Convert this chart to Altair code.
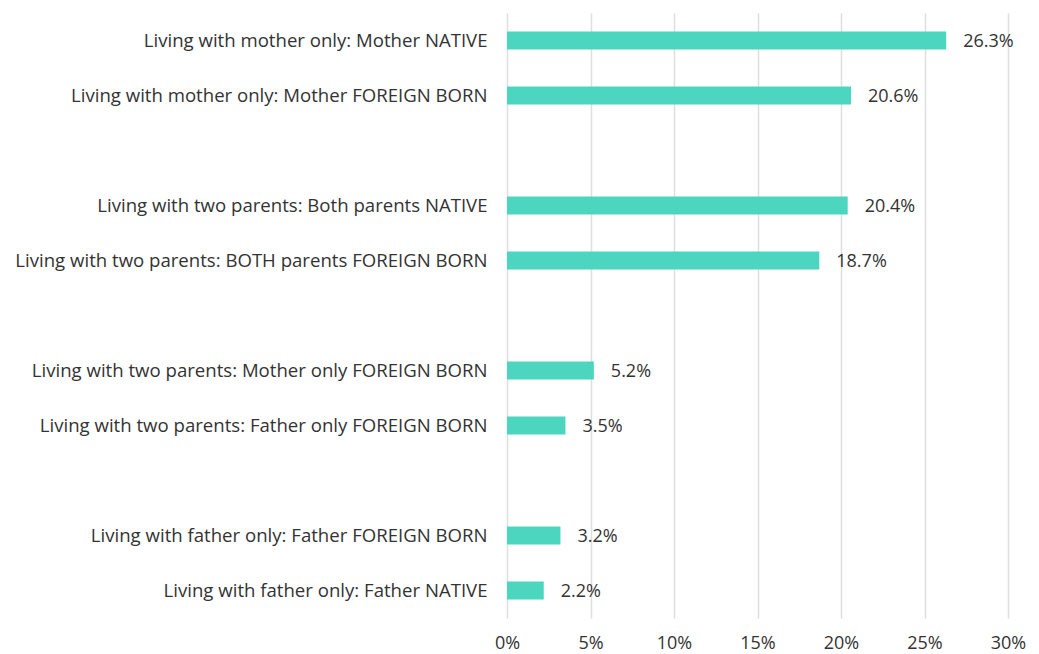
import altair as alt
import pandas as pd

categories = [
    "Living with mother only: Mother NATIVE",
    "Living with mother only: Mother FOREIGN BORN",
    "Living with two parents: Both parents NATIVE",
    "Living with two parents: BOTH parents FOREIGN BORN",
    "Living with two parents: Mother only FOREIGN BORN",
    "Living with two parents: Father only FOREIGN BORN",
    "Living with father only: Father FOREIGN BORN",
    "Living with father only: Father NATIVE",
]
values = [26.3, 20.6, 20.4, 18.7, 5.2, 3.5, 3.2, 2.2]
x_ticks = [0, 5, 10, 15, 20, 25, 30]

# y domain with blank spacer slots between pairs
domain = [categories[0], categories[1], " ",
          categories[2], categories[3], "  ",
          categories[4], categories[5], "   ",
          categories[6], categories[7]]

df = pd.DataFrame({"cat": categories, "val": [v / 100 for v in values],
                   "label": [f"{v:.1f}%" for v in values]})

FONT = "Open Sans"
TEXT = "#333333"
BAR = "#4dd6bf"

y = alt.Y("cat:N", sort=domain,
          scale=alt.Scale(domain=domain, paddingInner=0, paddingOuter=0),
          axis=alt.Axis(title=None, ticks=False, domain=False, labelFont=FONT,
                        labelFontSize=18.6, labelColor=TEXT, labelPadding=20,
                        labelLimit=600))
x = alt.X("val:Q", scale=alt.Scale(domain=[0, 0.30], nice=False),
          axis=alt.Axis(title=None, format=".0%", values=[t / 100 for t in x_ticks],
                        ticks=False, domain=False, labelFont=FONT, labelFontSize=18,
                        labelColor=TEXT, labelPadding=16, labelFlush=False,
                        grid=True, gridColor="#dedede", gridWidth=1.5))

bars = alt.Chart(df).mark_bar(size=18, color=BAR).encode(x=x, y=y)
labels = alt.Chart(df).mark_text(align="left", baseline="middle", dx=17, dy=1,
                                 font=FONT, fontSize=18, color=TEXT).encode(
    x="val:Q", y=alt.Y("cat:N", sort=domain), text="label:N")

chart = (bars + labels).properties(
    width=501, height=605,
    autosize=alt.AutoSizeParams(type="none"),
    padding={"left": 499, "top": 5, "right": 23, "bottom": 36},
).configure(background="white", view=alt.ViewConfig(stroke=None))

chart.save("out.html", embed_options={"renderer": "svg", "actions": False})
